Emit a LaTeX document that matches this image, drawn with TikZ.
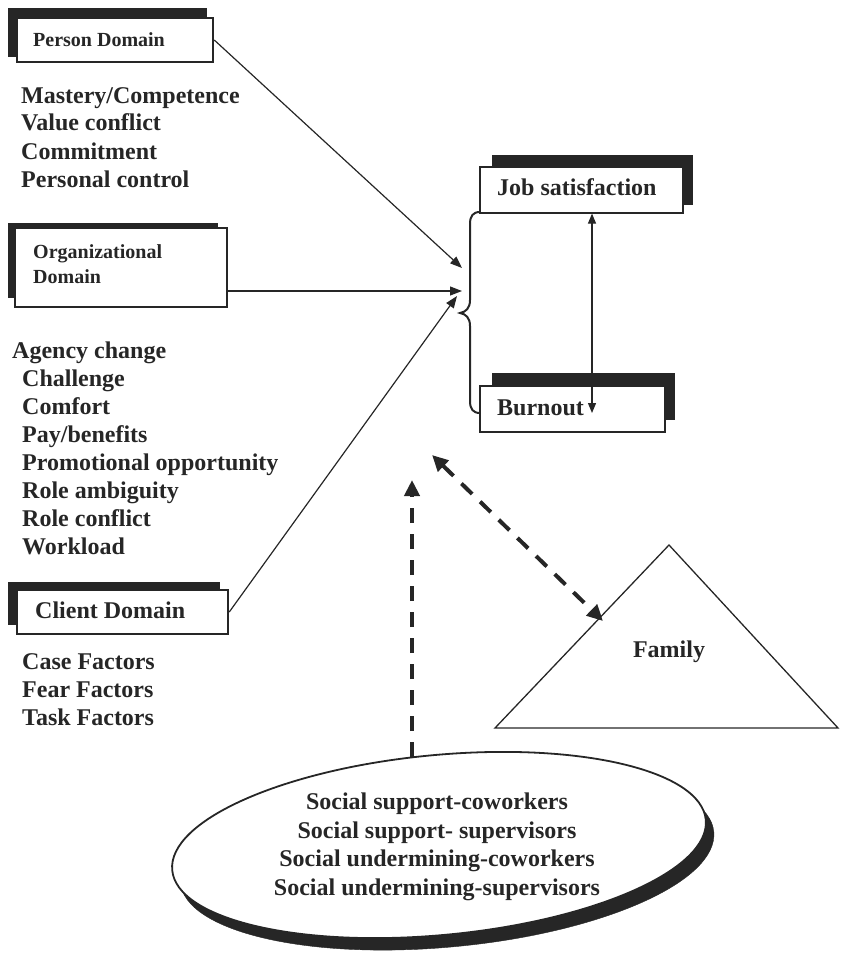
\documentclass[tikz,border=0pt]{standalone}
\usepackage{fontspec}
\setmainfont{Liberation Serif}
\usetikzlibrary{arrows.meta,shapes.geometric}
\definecolor{ink}{HTML}{262626}
\begin{document}
\begin{tikzpicture}[x=1pt,y=-1pt,
  txt/.style={font=\fontsize{24}{28}\selectfont\bfseries, inner sep=0pt, anchor=west, text=ink, text height=16pt, text depth=4pt},
  smalltxt/.style={font=\fontsize{20}{25}\selectfont\bfseries, inner sep=0pt, anchor=west, text=ink, align=left},
  shadowfill/.style={fill=ink, draw=none},
  mainbox/.style={draw=ink, fill=white, line width=2.5pt, inner sep=0pt},
  outbox/.style={draw=ink, fill=white, line width=1.2pt, inner sep=0pt},
  conn/.style={draw=ink, line width=1.2pt, -{Triangle[length=12pt,width=9pt]}},
  biconn/.style={draw=ink, line width=1.2pt, {Triangle[length=10pt,width=8pt]}-{Triangle[length=10pt,width=8pt]}},
  dasharrow/.style={draw=ink, line width=4pt, dash pattern=on 15pt off 11pt},
  dtip/.style={-{Triangle[length=16pt,width=15pt]}},
]
\useasboundingbox (0,0) rectangle (840,963);

% Person domain
\fill[shadowfill] (8,8) rectangle (207,57);
\node[mainbox, minimum width=196pt, minimum height=44pt] (pbox) at (115,40) {};
\node[smalltxt] (ptitle) at (33,40) {Person Domain};
\foreach \t [count=\i] in {Mastery/Competence, Value conflict, Commitment, Personal control}
  \node[txt] (p\i) at (21,69+28*\i) {\t};

% Organizational domain
\fill[shadowfill] (8,223) rectangle (218,298);
\node[mainbox, minimum width=212pt, minimum height=79pt] (obox) at (121,267.5) {};
\node[smalltxt] (otitle) at (33,264.5) {Organizational\\Domain};
\node[txt] (a0) at (12,352) {Agency change};
\foreach \t [count=\i] in {Challenge, Comfort, Pay/benefits, Promotional opportunity, Role ambiguity, Role conflict, Workload}
  \node[txt] (a\i) at (22,352+28*\i) {\t};

% Client domain
\fill[shadowfill] (8,582) rectangle (220,625);
\node[mainbox, minimum width=211pt, minimum height=44pt] (cbox) at (122.5,612) {};
\node[txt] (ctitle) at (35,612) {Client Domain};
\foreach \t [count=\i] in {Case Factors, Fear Factors, Task Factors}
  \node[txt] (c\i) at (22,635+28*\i) {\t};

% Outcomes
\fill[shadowfill] (492,155) rectangle (693,205);
\node[outbox, minimum width=203pt, minimum height=46pt] (jbox) at (581.5,190) {};
\node[txt] (jtext) at (497,189) {Job satisfaction};
\fill[shadowfill] (492,373) rectangle (675,420);
\node[outbox, minimum width=185pt, minimum height=46pt] (bbox) at (572.5,409) {};
\node[txt] (btext) at (497,409) {Burnout};

% brace
\draw[ink, line width=2pt] (480,212) .. controls (473,212) and (470,216) .. (470,224) -- (470,300)
  .. controls (470,308) and (466,312) .. (460,313) .. controls (466,314) and (470,318) .. (470,326)
  -- (470,401) .. controls (470,409) and (473,413) .. (480,413);

% connectors to brace
\coordinate (t1) at (462,268);
\coordinate (t2) at (462,291);
\coordinate (t3) at (457,296);
\draw[conn] (pbox.east) -- (t1);
\draw[conn] (obox.east |- t2) -- (t2);
\draw[conn] (cbox.east) -- (t3);

% job satisfaction <-> burnout
\coordinate (vb) at (592,413);
\draw[biconn] (vb) -- (vb |- jbox.south);

% Family triangle
\draw[ink, line width=1.3pt] (495,728) -- (669,545) -- (838,728) -- cycle;
\node[txt, anchor=center] (fam) at (669,651) {Family};

% Social ellipse
\node[ellipse, fill=ink, draw=ink, minimum width=536pt, minimum height=180pt, rotate=5.4] (socsh) at (447,857) {};
\node[ellipse, fill=white, draw=ink, line width=1.8pt, minimum width=536pt, minimum height=180pt, rotate=5.4] (soc) at (439,845) {};
\node[anchor=center, align=center, inner sep=0pt, text=ink, font=\fontsize{24}{28.5}\selectfont\bfseries] (soctext) at (437,847)
  {Social support-coworkers\\Social support- supervisors\\Social undermining-coworkers\\Social undermining-supervisors};

% dashed arrows
\coordinate (stop) at (412,757);
\coordinate (sup) at (412,480);
\draw[dasharrow, dtip] (stop) -- (sup);
\coordinate (d1) at (432,455);
\coordinate (d2) at (603,621);
\draw[dasharrow, {Triangle[length=16pt,width=15pt]}-{Triangle[length=16pt,width=15pt]}] (d1) -- (d2);
\end{tikzpicture}
\end{document}
